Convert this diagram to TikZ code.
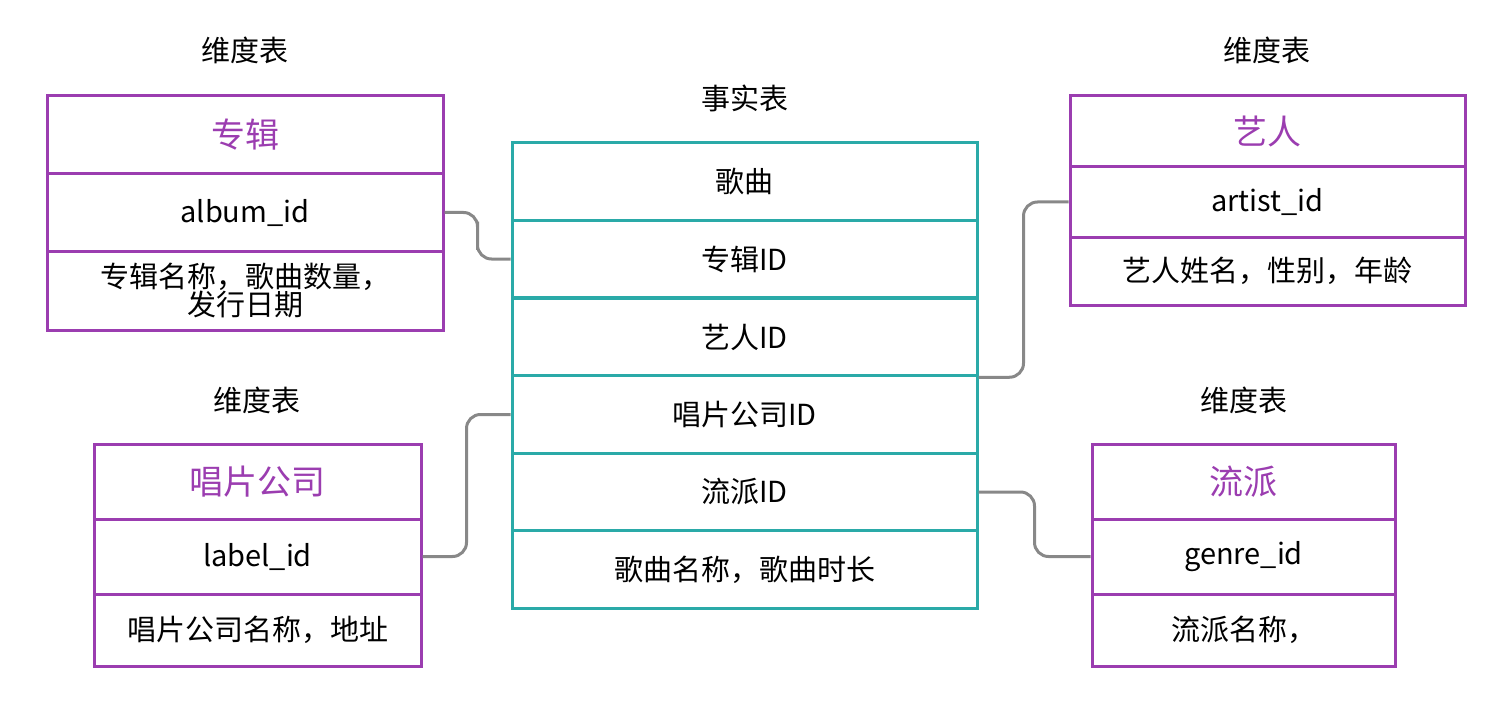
\documentclass[tikz,border=0pt]{standalone}
\usepackage{fontspec}
\setmainfont{Noto Sans CJK SC}
\usetikzlibrary{calc}
\definecolor{pur}{HTML}{9B3DB0}
\definecolor{teal}{HTML}{2AAAA8}
\definecolor{gr}{HTML}{888888}
\begin{document}
\begin{tikzpicture}[x=1pt,y=-1pt,
 pb/.style={draw=pur,line width=3pt,inner sep=0pt,font=\fontsize{29}{36}\selectfont,align=center},
 tb/.style={draw=teal,line width=3pt,inner sep=0pt,font=\fontsize{29}{36}\selectfont,minimum width=465,minimum height=77.5},
 hd/.style={font=\fontsize{29}{36}\selectfont},
 tt/.style={font=\fontsize{34}{40}\selectfont,text=pur},
 conn/.style={draw=gr,line width=3pt,rounded corners=14}]
\useasboundingbox (0,0) rectangle (1488,714);
% fact table
\node[hd] (fh) at (745,98) {事实表};
\node[tb] (f1) at (744.5,181.5) {歌曲};
\node[tb] (f2) at (744.5,259) {专辑ID};
\node[tb] (f3) at (744.5,337) {艺人ID};
\node[tb] (f4) at (744.5,414.5) {唱片公司ID};
\node[tb] (f5) at (744.5,492) {流派ID};
\node[tb] (f6) at (744.5,569.5) {歌曲名称，歌曲时长};
% album
\node[hd] (ah) at (245,50) {维度表};
\node[pb,minimum width=396,minimum height=78] (a1) at (245,135) {\fontsize{34}{40}\selectfont\color{pur}专辑};
\node[pb,minimum width=396,minimum height=77] (a2) at (245,212.5) {album\_id};
\node[pb,minimum width=396,minimum height=79] (a3) at (245,290.5) {专辑名称，歌曲数量，\\[-8pt]发行日期};
% label
\node[hd] (lh) at (257,400) {维度表};
\node[pb,minimum width=327,minimum height=75] (l1) at (257.5,481.5) {\fontsize{34}{40}\selectfont\color{pur}唱片公司};
\node[pb,minimum width=327,minimum height=75] (l2) at (257.5,556.5) {label\_id};
\node[pb,minimum width=327,minimum height=72] (l3) at (257.5,630) {唱片公司名称，地址};
% artist
\node[hd] (rh) at (1267,50) {维度表};
\node[pb,minimum width=395,minimum height=71] (r1) at (1267.5,131.5) {\fontsize{34}{40}\selectfont\color{pur}艺人};
\node[pb,minimum width=395,minimum height=70] (r2) at (1267.5,202) {artist\_id};
\node[pb,minimum width=395,minimum height=68] (r3) at (1267.5,271) {艺人姓名，性别，年龄};
% genre
\node[hd] (gh) at (1244,400) {维度表};
\node[pb,minimum width=303,minimum height=75] (g1) at (1243.5,481.5) {\fontsize{34}{40}\selectfont\color{pur}流派};
\node[pb,minimum width=303,minimum height=75] (g2) at (1243.5,556.5) {genre\_id};
\node[pb,minimum width=303,minimum height=72] (g3) at (1243.5,630) {流派名称，};
% connectors
\draw[conn] (a2.east) -| ($(a2.east)!0.5!(f2.west)$) |- (f2.west);
\draw[conn] (f3.south east) -| ($(f3.south east)!0.5!(r2.west)$) |- (r2.west);
\draw[conn] (f4.west) -| ($(f4.west)!0.5!(l2.east)$) |- (l2.east);
\draw[conn] (f5.east) -| ($(f5.east)!0.5!(g2.west)$) |- (g2.west);
\end{tikzpicture}
\end{document}
